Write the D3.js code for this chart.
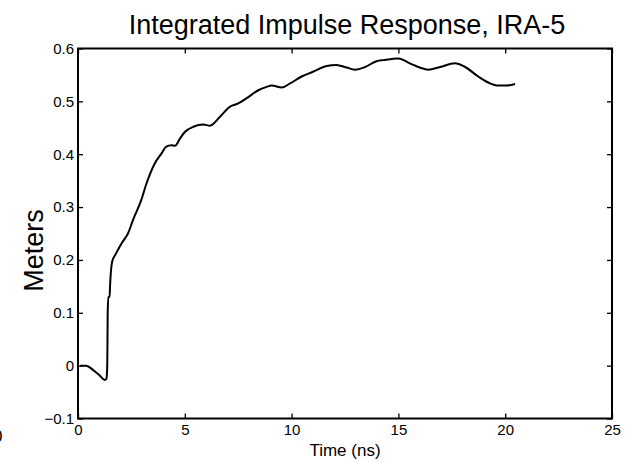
<!DOCTYPE html>
<html><head><meta charset="utf-8">
<script src="https://cdn.jsdelivr.net/npm/d3@7"></script>
<style>body{margin:0;background:#fff}svg{display:block;font-family:"Liberation Sans",Arial,sans-serif}</style>
</head><body><svg id="c" width="631" height="462"></svg>
<script>
const timeNs = [0.1,0.39,0.7,1.0,1.25,1.33,1.37,1.39,1.42,1.48,1.5,1.6,1.75,1.95,2.15,2.34,2.57,2.96,3.21,3.6,3.92,4.12,4.38,4.54,4.78,5.0,5.4,5.87,6.18,6.65,7.12,7.5,7.9,8.44,8.8,9.07,9.54,9.93,10.47,11.0,11.64,12.1,12.58,12.97,13.44,13.98,14.3,15.0,15.54,16.0,16.4,16.95,17.65,18.12,18.74,19.29,19.6,20.07,20.46];
const meters = [0.0,0.0,-0.008,-0.018,-0.027,-0.025,0.0,0.1,0.13,0.13,0.15,0.197,0.21,0.225,0.238,0.25,0.275,0.313,0.345,0.383,0.402,0.414,0.417,0.416,0.43,0.442,0.452,0.456,0.454,0.471,0.49,0.496,0.506,0.521,0.527,0.53,0.526,0.534,0.547,0.556,0.567,0.569,0.564,0.56,0.565,0.576,0.578,0.581,0.572,0.564,0.56,0.565,0.572,0.565,0.547,0.534,0.53,0.53,0.533];
const xTicks = [0,5,10,15,20,25];
const yTicks = [-0.1,0,0.1,0.2,0.3,0.4,0.5,0.6];
const titleText = "Integrated Impulse Response, IRA-5";
const xLabel = "Time (ns)";
const yLabel = "Meters";

const svg = d3.select("#c");
const L=78,R=612,T=48.5,B=418.5;
const x = d3.scaleLinear().domain([0,25]).range([L,R]);
const y = d3.scaleLinear().domain([-0.1,0.6]).range([B,T]);

svg.append("rect").attr("x",L).attr("y",T).attr("width",R-L).attr("height",B-T)
  .attr("fill","none").attr("stroke","#000").attr("stroke-width",2);

const tl=5;
function styleAxis(g){g.select(".domain").remove();g.selectAll("line").attr("stroke","#000").attr("stroke-width",1.3);g.selectAll("text").attr("fill","#000").style("font-size","15px").style("font-family","Liberation Sans, Arial, sans-serif");}
svg.append("g").attr("transform",`translate(0,${B})`)
  .call(d3.axisBottom(x).tickValues(xTicks).tickSizeInner(-tl).tickSizeOuter(0).tickPadding(6).tickFormat(d3.format("d")))
  .call(styleAxis);
svg.append("g").attr("transform",`translate(0,${T})`)
  .call(d3.axisTop(x).tickValues(xTicks).tickSizeInner(-tl).tickSizeOuter(0).tickFormat(""))
  .call(styleAxis);
svg.append("g").attr("transform",`translate(${L},0)`)
  .call(d3.axisLeft(y).tickValues(yTicks).tickSizeInner(-tl).tickSizeOuter(0).tickPadding(4).tickFormat(d=>d3.format("~g")(+d.toFixed(1))))
  .call(styleAxis);
svg.append("g").attr("transform",`translate(${R},0)`)
  .call(d3.axisRight(y).tickValues(yTicks).tickSizeInner(-tl).tickSizeOuter(0).tickFormat(""))
  .call(styleAxis);

const data = timeNs.map((t,i)=>[t,meters[i]]);
svg.append("path").datum(data)
  .attr("d",d3.line().x(d=>x(d[0])).y(d=>y(d[1])).curve(d3.curveMonotoneX))
  .attr("fill","none").attr("stroke","#000").attr("stroke-width",2);

svg.append("text").attr("x",(L+R)/2+2).attr("y",34).attr("text-anchor","middle")
  .style("font-size","27px").text(titleText);
svg.append("text").attr("x",(L+R)/2).attr("y",456).attr("text-anchor","middle")
  .style("font-size","17px").text(xLabel);
svg.append("text").attr("transform",`translate(43,${(T+B)/2+17}) rotate(-90)`).attr("text-anchor","middle")
  .style("font-size","27px").text(yLabel);
svg.append("text").attr("x",-7).attr("y",442).style("font-size","17px").text("0");
</script></body></html>
